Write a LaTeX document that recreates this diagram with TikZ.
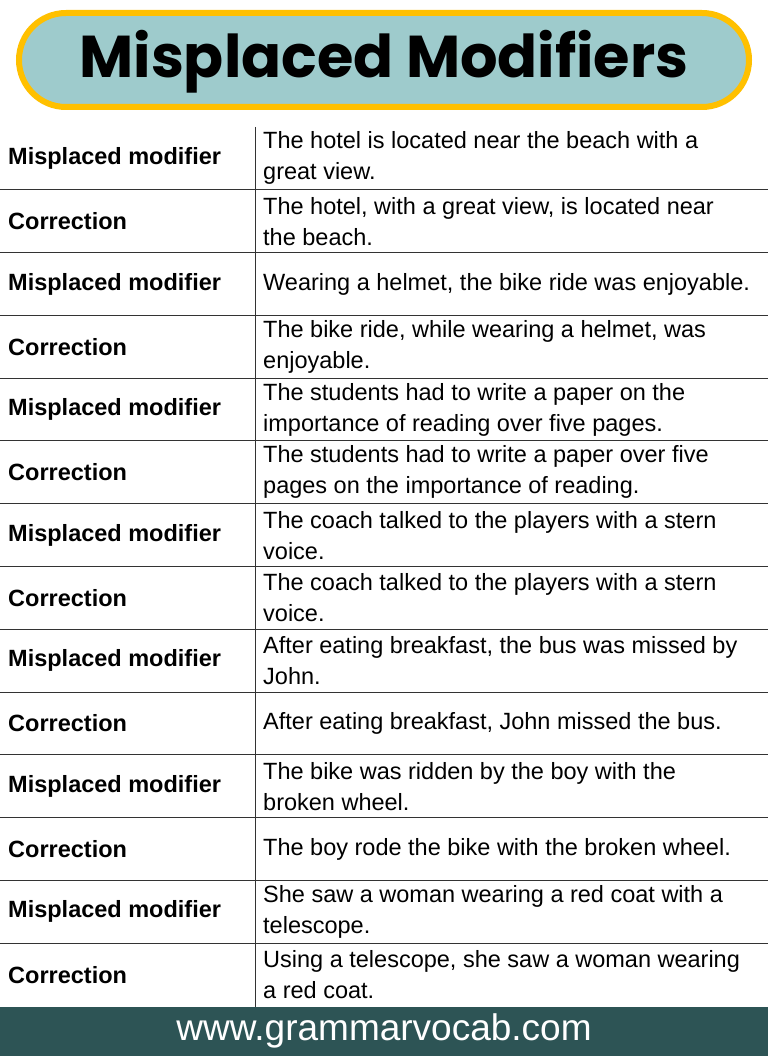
\documentclass[tikz,border=0pt]{standalone}
\usepackage{fontspec}
\setmainfont{Liberation Sans}
\newfontfamily\titlefont{Poppins}
\definecolor{gold}{HTML}{FFC000}
\definecolor{pale}{HTML}{9ECBCC}
\definecolor{foot}{HTML}{2D5455}
\begin{document}
\begin{tikzpicture}[x=1pt,y=-1pt,
  lab/.style={anchor=west,font=\fontsize{23.5}{26}\selectfont\bfseries,inner sep=0},
  txt/.style={anchor=west,align=left,font=\fontsize{23.5}{31}\selectfont,inner sep=0},
  rule/.style={line width=1pt,black!80}]
\useasboundingbox (0,0) rectangle (768,1056);
\fill[white] (0,0) rectangle (768,1056);
\node[draw=gold,fill=pale,line width=6pt,rounded corners=47pt,minimum width=730pt,minimum height=94pt,inner sep=0] (title) at (384,60) {};
\node[font=\titlefont\bfseries\fontsize{59}{66}\selectfont] (tt) at (384,62) {Misplaced Modifiers};
\foreach \i/\t [count=\k from 0] in {
 0/{The hotel is located near the beach with a\\great view.},
 1/{The hotel, with a great view, is located near\\the beach.},
 0/{Wearing a helmet, the bike ride was enjoyable.},
 1/{The bike ride, while wearing a helmet, was\\enjoyable.},
 0/{The students had to write a paper on the\\importance of reading over five pages.},
 1/{The students had to write a paper over five\\pages on the importance of reading.},
 0/{The coach talked to the players with a stern\\voice.},
 1/{The coach talked to the players with a stern\\voice.},
 0/{After eating breakfast, the bus was missed by\\John.},
 1/{After eating breakfast, John missed the bus.},
 0/{The bike was ridden by the boy with the\\broken wheel.},
 1/{The boy rode the bike with the broken wheel.},
 0/{She saw a woman wearing a red coat with a\\telescope.},
 1/{Using a telescope, she saw a woman wearing\\a red coat.}}{
  \pgfmathsetmacro\yc{127+62.79*\k+31.4}
  \ifnum\i=0 \node[lab] (l\k) at (8,\yc) {Misplaced modifier};
  \else \node[lab] (l\k) at (8,\yc) {Correction}; \fi
  \node[txt] (r\k) at (263,\yc) {\t};
  \ifnum\k>0 \draw[rule] (0,127+62.79*\k) -- (768,127+62.79*\k); \fi
}
\draw[rule] (255,127) -- (255,1007);
\fill[foot] (0,1007) rectangle (768,1056);
\node[white,font=\fontsize{37}{42}\selectfont] (url) at (384,1031) {www.grammarvocab.com};
\end{tikzpicture}
\end{document}
